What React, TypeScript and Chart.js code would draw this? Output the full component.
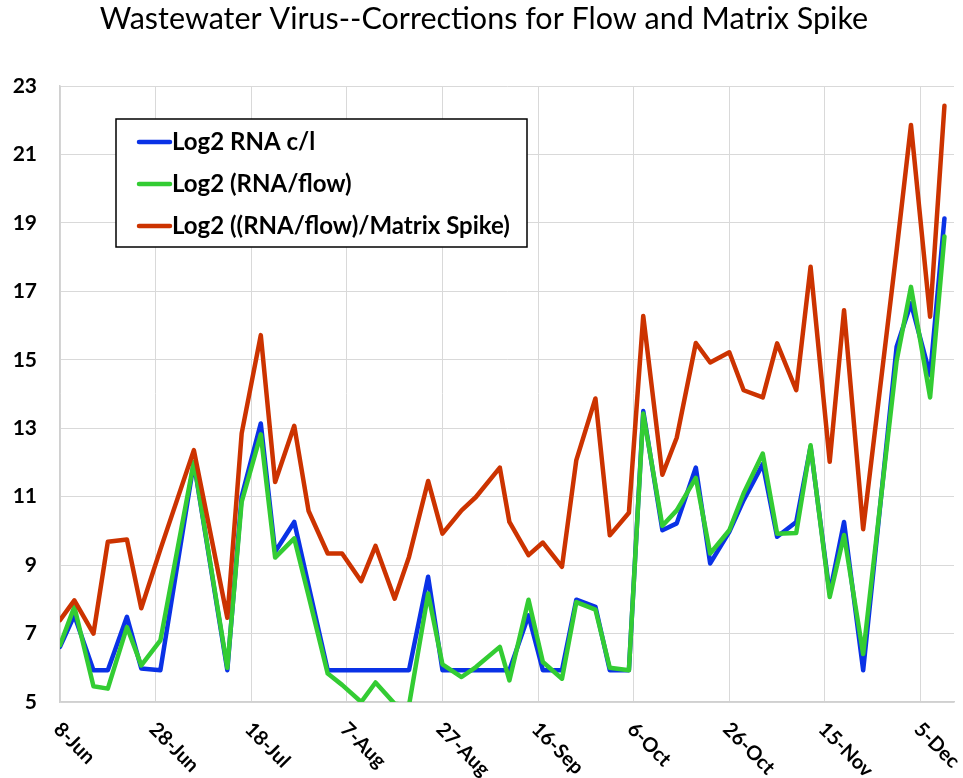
import React, { useEffect, useRef } from 'react';
import { Chart, registerables } from 'chart.js';

Chart.register(...registerables);

const CHART_TITLE = 'Wastewater Virus--Corrections for Flow and Matrix Spike';

// x tick labels, one every 20 days starting at 8-Jun (day 0)
const X_TICK_LABELS = ['8-Jun', '28-Jun', '18-Jul', '7-Aug', '27-Aug', '16-Sep', '6-Oct', '26-Oct', '15-Nov', '5-Dec'];
const X_TICK_STEP = 20;
const X_MAX_DAY = 187;

const Y_MIN = 5;
const Y_MAX = 23;
const Y_STEP = 2;

// sample dates as days after 8-Jun
const SAMPLE_DAYS = [
  0, 3, 7, 10, 14, 17, 21, 28, 35, 38, 42, 45, 49, 52, 56, 59, 63, 66, 70, 73,
  77, 80, 84, 87, 92, 94, 98, 101, 105, 108, 112, 115, 119, 122, 126, 129, 133,
  136, 140, 143, 147, 150, 154, 157, 161, 164, 168, 175, 178, 182, 185,
];

const LOG2_RNA = [
  6.61, 7.53, 5.93, 5.93, 7.49, 5.98, 5.93, 12.0, 5.93, 11.0, 13.14, 9.39, 10.26, 8.4, 5.93, 5.93, 5.93, 5.93, 5.93, 5.93,
  8.66, 5.93, 5.93, 5.93, 5.93, 5.93, 7.53, 5.93, 5.93, 7.99, 7.78, 5.93, 5.93, 13.5, 10.02, 10.22, 11.85,
  9.05, 9.97, 10.9, 11.95, 9.83, 10.26, 12.46, 8.17, 10.26, 5.93, 15.38, 16.65, 14.55, 19.13,
];

const LOG2_RNA_FLOW = [
  6.66, 7.78, 5.46, 5.39, 7.19, 6.07, 6.8, 12.02, 6.0, 10.85, 12.82, 9.22, 9.78, 8.1, 5.83, 5.5, 5.0, 5.57, 4.95, 4.9,
  8.17, 6.1, 5.73, 6.02, 6.61, 5.63, 7.99, 6.17, 5.68, 7.92, 7.7, 6.0, 5.93, 13.43, 10.15, 10.6, 11.55,
  9.34, 10.02, 11.1, 12.26, 9.92, 9.94, 12.5, 8.07, 9.88, 6.4, 14.97, 17.13, 13.9, 18.6,
];

const LOG2_RNA_FLOW_SPIKE = [
  7.39, 7.97, 7.0, 9.68, 9.75, 7.74, 9.46, 12.36, 7.46, 12.85, 15.72, 11.43, 13.07, 10.58, 9.34, 9.34, 8.53, 9.56, 8.02, 9.24,
  11.46, 9.92, 10.6, 10.99, 11.85, 10.26, 9.29, 9.66, 8.95, 12.07, 13.87, 9.87, 10.53, 16.28, 11.64, 12.72, 15.49,
  14.92, 15.22, 14.11, 13.9, 15.48, 14.11, 17.72, 12.02, 16.45, 10.05, 18.2, 21.86, 16.26, 22.42,
];

const SERIES_NAMES = ['Log2 RNA c/l', 'Log2 (RNA/flow)', 'Log2 ((RNA/flow)/Matrix Spike)'];
const SERIES_COLORS = ['#0a32e6', '#33cc33', '#cc3300'];

const FONT = 'Lato, "Open Sans", "DejaVu Sans", sans-serif';

const toPoints = (vals: number[]) => vals.map((v, i) => ({ x: SAMPLE_DAYS[i], y: v }));

const overlayPlugin = {
  id: 'overlay',
  afterDraw(chart: any) {
    const ctx: CanvasRenderingContext2D = chart.ctx;
    const xs = chart.scales.x;
    ctx.save();

    // title
    ctx.fillStyle = '#000';
    ctx.font = `30.5px ${FONT}`;
    ctx.textAlign = 'center';
    ctx.textBaseline = 'middle';
    ctx.fillText(CHART_TITLE, 484, 19);

    // rotated x tick labels (clockwise 45deg, starting at the tick)
    ctx.font = `bold 20px ${FONT}`;
    ctx.textAlign = 'left';
    ctx.textBaseline = 'middle';
    xs.ticks.forEach((t: any) => {
      const idx = Math.round(t.value / X_TICK_STEP);
      const label = X_TICK_LABELS[idx];
      if (!label) return;
      const px = xs.getPixelForValue(t.value);
      ctx.save();
      ctx.translate(px - 3, chart.chartArea.bottom + 24);
      ctx.rotate(Math.PI / 4);
      ctx.fillText(label, 0, 0);
      ctx.restore();
    });

    // legend box
    const lx = 116, ly = 119, lw = 411, lh = 128;
    ctx.fillStyle = '#fff';
    ctx.fillRect(lx, ly, lw, lh);
    ctx.strokeStyle = '#000';
    ctx.lineWidth = 1.5;
    ctx.strokeRect(lx, ly, lw, lh);
    ctx.font = `bold 24px ${FONT}`;
    ctx.textAlign = 'left';
    ctx.textBaseline = 'middle';
    SERIES_NAMES.forEach((name, i) => {
      const cy = ly + 23 + i * 42;
      ctx.strokeStyle = SERIES_COLORS[i];
      ctx.lineWidth = 4.5;
      ctx.lineCap = 'round';
      ctx.beginPath();
      ctx.moveTo(139, cy);
      ctx.lineTo(170, cy);
      ctx.stroke();
      ctx.fillStyle = '#000';
      ctx.fillText(name, 172, cy);
    });

    ctx.restore();
  },
};

export default function App() {
  const canvasRef = useRef<HTMLCanvasElement | null>(null);

  useEffect(() => {
    document.body.style.margin = '0';
    const canvas = canvasRef.current;
    if (!canvas) return;
    const seriesValues = [LOG2_RNA, LOG2_RNA_FLOW, LOG2_RNA_FLOW_SPIKE];
    const chart = new Chart(canvas, {
      type: 'line',
      data: {
        datasets: seriesValues.map((vals, i) => ({
          label: SERIES_NAMES[i],
          data: toPoints(vals),
          borderColor: SERIES_COLORS[i],
          backgroundColor: SERIES_COLORS[i],
          borderWidth: 4.5,
          pointRadius: 0,
          tension: 0,
          borderJoinStyle: 'round',
          borderCapStyle: 'round',
          clip: { left: 0, top: 6, right: 6, bottom: 0 },
          order: 2 - i,
        })),
      },
      options: {
        animation: false,
        responsive: true,
        maintainAspectRatio: false,
        layout: { padding: { top: 86, right: 9, left: 0, bottom: 0 } },
        plugins: {
          legend: { display: false },
          title: { display: false },
          tooltip: { enabled: false },
        },
        scales: {
          x: {
            type: 'linear',
            min: 0,
            max: X_MAX_DAY,
            ticks: { stepSize: X_TICK_STEP, display: false },
            grid: { color: '#d9d9d9', lineWidth: 1, drawTicks: false },
            border: { color: '#d0d0d0', width: 1.5 },
            afterBuildTicks: (s: any) => {
              s.ticks = s.ticks.filter((t: any) => t.value % X_TICK_STEP === 0);
            },
            afterFit: (s: any) => {
              s.height = 76;
            },
          },
          y: {
            min: Y_MIN,
            max: Y_MAX,
            ticks: {
              stepSize: Y_STEP,
              color: '#000',
              padding: 23,
              font: { family: FONT, size: 21, weight: 'bold' },
            },
            grid: { color: '#d9d9d9', lineWidth: 1, drawTicks: false },
            border: { color: '#d0d0d0', width: 1.5 },
            afterFit: (s: any) => {
              s.width = 60;
            },
          },
        },
      },
      plugins: [overlayPlugin],
    });
    return () => chart.destroy();
  }, []);

  return (
    <div style={{ position: 'relative', width: 963, height: 778 }}>
      <canvas ref={canvasRef} />
    </div>
  );
}
